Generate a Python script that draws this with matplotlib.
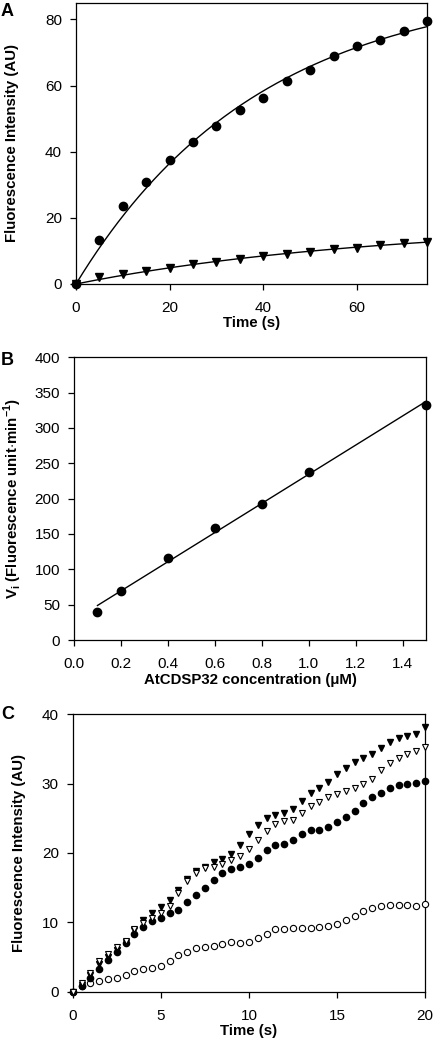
import numpy as np
import matplotlib
matplotlib.use("Agg")
import matplotlib.pyplot as plt

plt.rcParams['font.family'] = ['Liberation Sans', 'DejaVu Sans']
plt.rcParams['mathtext.fontset'] = 'custom'
plt.rcParams['mathtext.rm'] = 'Liberation Sans'
plt.rcParams['mathtext.bf'] = 'Liberation Sans:bold'

# panel A: fluorescence vs time
time_a = [0, 5, 10, 15, 20, 25, 30, 35, 40, 45, 50, 55, 60, 65, 70, 75]
fl_circle = [0, 13.2, 23.6, 30.7, 37.5, 42.9, 47.7, 52.7, 56.3, 61.3, 64.6, 69.0, 71.9, 73.9, 76.6, 79.6]
fl_triangle = [0, 2.1, 3.1, 3.8, 4.9, 5.9, 6.7, 7.6, 8.5, 9.1, 9.7, 10.5, 10.9, 11.9, 12.4, 12.7]

# panel B: initial velocity vs concentration
conc_b = [0.1, 0.2, 0.4, 0.6, 0.8, 1.0, 1.5]
vi_b = [40.1, 69.3, 115.6, 158.5, 192.9, 237.3, 332.5]

# panel C: four time courses
time_c = [i * 0.5 for i in range(41)]
c_filled_tri = [0, 1.0, 2.5, 4.0, 5.0, 6.1, 7.2, 8.9, 10.4, 11.4, 12.3, 13.3, 14.7, 16.2, 17.4,
                18.0, 18.7, 19.2, 19.8, 21.1, 22.7, 24.0, 25.1, 25.5, 25.8, 26.4, 27.5, 28.6,
                29.3, 30.2, 31.3, 32.3, 33.1, 33.6, 34.2, 35.1, 36.0, 36.6, 36.8, 37.1, 38.1]
c_open_tri = [0, 1.3, 2.7, 4.4, 5.4, 6.4, 7.4, 9.0, 9.9, 10.7, 11.3, 12.4, 14.3, 16.0, 17.1,
              17.8, 18.0, 18.4, 19.0, 19.6, 20.6, 21.8, 23.2, 24.2, 24.6, 24.8, 25.7, 26.7,
              27.4, 28.0, 28.5, 28.9, 29.3, 29.9, 30.7, 32.0, 32.9, 33.7, 34.2, 34.7, 35.3]
c_filled_circ = [0, 0.8, 2.0, 3.3, 4.6, 5.7, 7.0, 8.4, 9.4, 10.2, 10.7, 11.3, 11.8, 12.9, 13.9,
                 15.0, 16.1, 17.1, 17.7, 18.0, 18.4, 19.3, 20.4, 21.1, 21.3, 21.8, 22.8, 23.3,
                 23.3, 23.8, 24.5, 25.2, 26.1, 27.2, 28.0, 28.6, 29.3, 29.8, 30.0, 30.1, 30.4]
c_open_circ = [0, 0.9, 1.3, 1.6, 1.8, 2.0, 2.4, 3.0, 3.3, 3.5, 3.8, 4.5, 5.3, 5.8, 6.3, 6.4,
               6.6, 6.9, 7.2, 7.0, 7.2, 7.8, 8.4, 9.0, 9.1, 9.2, 9.2, 9.2, 9.3, 9.5, 9.8, 10.4,
               11.0, 11.6, 12.1, 12.4, 12.5, 12.5, 12.5, 12.4, 12.6]


def fit_rise(t, y):
    # y = a * (1 - exp(-k t)), least squares over a grid of k
    t = np.asarray(t, float)
    y = np.asarray(y, float)
    best = None
    for k in np.linspace(0.001, 0.2, 4000):
        f = 1 - np.exp(-k * t)
        a = (f @ y) / (f @ f)
        err = np.sum((y - a * f) ** 2)
        if best is None or err < best[0]:
            best = (err, a, k)
    return best[1], best[2]


def style_axes(ax, ylab_x, xlab_y=-0.14):
    ax.tick_params(direction='out', length=4, width=0.9, labelsize=11,
                   top=False, right=False)
    ax.tick_params(axis='x', pad=8)
    ax.tick_params(axis='y', pad=6)
    for s in ax.spines.values():
        s.set_linewidth(0.9)
    ax.yaxis.set_label_coords(ylab_x, 0.5)
    ax.xaxis.set_label_coords(0.5, xlab_y)


label_kw = dict(fontsize=10.8, fontweight='bold')

fig = plt.figure(figsize=(4.33, 10.41), dpi=100)

# ---- A
ax = fig.add_axes([0.1755, 0.7272, 0.811, 0.27])
tt = np.linspace(0, 75, 200)
for ys, mk in [(fl_circle, 'o'), (fl_triangle, 'v')]:
    a, k = fit_rise(time_a, ys)
    ax.plot(tt, a * (1 - np.exp(-k * tt)), color='black', lw=1.0, zorder=2)
    ax.plot(time_a, ys, mk, color='black', ms=6, clip_on=False, zorder=3)
ax.set_xlim(0, 75)
ax.set_ylim(0, 85)
ax.set_xticks([0, 20, 40, 60])
ax.set_yticks([0, 20, 40, 60, 80])
ax.set_xlabel('Time (s)', va='center', **label_kw)
ax.set_ylabel('Fluorescence Intensity (AU)', va='center', **label_kw)
style_axes(ax, -0.182)
fig.text(0.002, 0.997, 'A', fontsize=13, fontweight='bold', va='top', ha='left')

# ---- B
ax = fig.add_axes([0.1709, 0.3852, 0.813, 0.2716])
slope, icpt = np.polyfit(conc_b, vi_b, 1)
xx = np.array([min(conc_b), max(conc_b)])
ax.plot(xx, slope * xx + icpt, color='black', lw=1.0, zorder=2)
ax.plot(conc_b, vi_b, 'o', color='black', ms=6, clip_on=False, zorder=3)
ax.set_xlim(0, 1.5)
ax.set_ylim(0, 400)
ax.set_xticks(np.arange(0, 1.41, 0.2))
ax.set_xticklabels(['%.1f' % v for v in np.arange(0, 1.41, 0.2)])
ax.set_yticks(range(0, 401, 50))
ax.set_xlabel('AtCDSP32 concentration (\u03bcM)', va='center', **label_kw)
ax.set_ylabel(r'V$_\mathbf{i}$ (Fluorescence unit$\cdot$min$^\mathbf{-1}$)', va='center', **label_kw)
style_axes(ax, -0.173)
fig.text(0.002, 0.662, 'B', fontsize=13, fontweight='bold', va='top', ha='left')

# ---- C
ax = fig.add_axes([0.168, 0.0471, 0.8136, 0.267])
ax.plot(time_c, c_open_circ, 'o', mfc='white', mec='black', mew=0.8, ms=4.5, clip_on=False, zorder=3)
ax.plot(time_c, c_filled_circ, 'o', color='black', ms=4.5, clip_on=False, zorder=4)
ax.plot(time_c, c_open_tri, 'v', mfc='white', mec='black', mew=0.8, ms=4.8, clip_on=False, zorder=5)
ax.plot(time_c, c_filled_tri, 'v', color='black', ms=4.8, clip_on=False, zorder=4)
ax.set_xlim(0, 20)
ax.set_ylim(0, 40)
ax.set_xticks([0, 5, 10, 15, 20])
ax.set_yticks([0, 10, 20, 30, 40])
ax.set_xlabel('Time (s)', va='center', **label_kw)
ax.set_ylabel('Fluorescence Intensity (AU)', va='center', **label_kw)
style_axes(ax, -0.153)
fig.text(0.002, 0.322, 'C', fontsize=13, fontweight='bold', va='top', ha='left')

fig.savefig('out.png', dpi=100)
